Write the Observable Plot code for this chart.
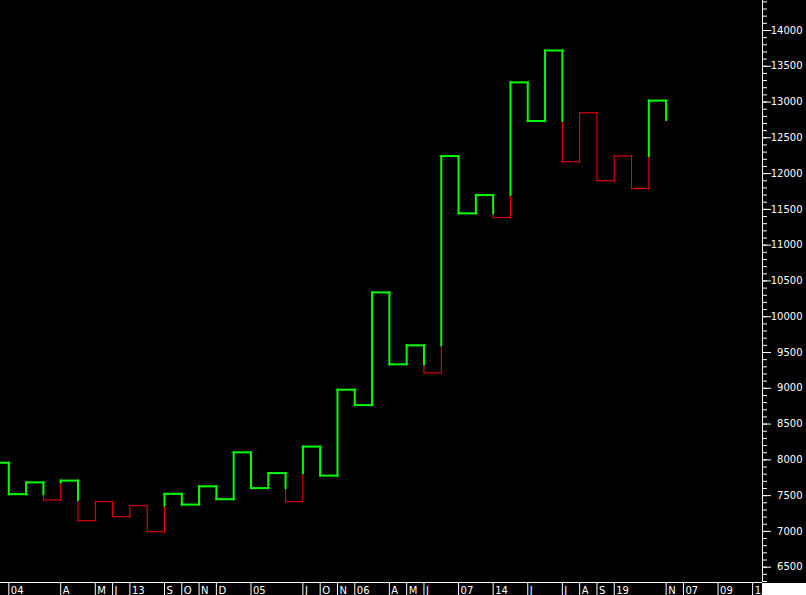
<!DOCTYPE html>
<html><head><meta charset="utf-8">
<script src="https://cdn.jsdelivr.net/npm/d3@7"></script>
<script src="https://cdn.jsdelivr.net/npm/@observablehq/plot@0.6"></script>
<style>
html,body{margin:0;padding:0;background:#000;overflow:hidden;}
#chart svg{display:block;}
</style></head><body><div id="chart"></div>
<script>
// Kagi turning levels (first = opening level, then end of each vertical line)
const kagiLevels = [7960, 7520, 7685, 7440, 7710, 7150, 7415, 7205, 7360, 6995,
  7525, 7375, 7630, 7450, 8105, 7605, 7815, 7415, 8185, 7780,
  8980, 8765, 10340, 9335, 9600, 9215, 12245, 11445, 11700, 11385,
  13275, 12735, 13720, 12165, 12850, 11900, 12245, 11790, 13020, 12750];

// Bottom strip labels (column index where each label starts)
const labelColumns = [0, 3, 5, 6, 7, 9, 10, 11, 12, 14, 17, 18, 19, 20, 22, 23, 24, 26, 28, 30, 32, 33, 34, 35, 38, 39, 41, 43];
const labelTexts = ["04", "A", "M", "J", "13", "S", "O", "N", "D", "05", "J", "O", "N", "06", "A", "M", "J", "07", "14", "J", "J", "A", "S", "19", "N", "07", "09", "12"];

const majorTicks = d3.range(6500, 14001, 500);
const minorTicks = d3.range(6300, 14401, 100);

const xDomain = [-0.48, 43.57];
const yDomain = [6286, 14419];

// Build Kagi segments with yang (thick green) / yin (thin red) switching
const segs = [];
let yang = true;
const L = kagiLevels;
segs.push({x1: -1, x2: 0, y1: L[0], y2: L[0], yang});
for (let k = 0; k < L.length - 1; k++) {
  const a = L[k], b = L[k + 1];
  if (b > a) {
    const sh = L[k - 1];
    if (!yang && k > 0 && b > sh) {
      segs.push({x1: k, x2: k, y1: a, y2: sh, yang: false});
      segs.push({x1: k, x2: k, y1: sh, y2: b, yang: true});
      yang = true;
    } else segs.push({x1: k, x2: k, y1: a, y2: b, yang});
  } else {
    const w = L[k - 1];
    if (yang && k > 0 && b < w) {
      segs.push({x1: k, x2: k, y1: a, y2: w, yang: true});
      segs.push({x1: k, x2: k, y1: w, y2: b, yang: false});
      yang = false;
    } else segs.push({x1: k, x2: k, y1: a, y2: b, yang});
  }
  if (k + 1 < L.length - 1) segs.push({x1: k, x2: k + 1, y1: b, y2: b, yang});
}

const labelMap = new Map(labelColumns.map((c, i) => [c, labelTexts[i]]));

const chart = Plot.plot({
  width: 806, height: 595,
  marginLeft: 0, marginRight: 44, marginTop: 0, marginBottom: 13,
  style: {background: "#000", color: "#fff", fontFamily: "DejaVu Sans", fontSize: "10px"},
  x: {type: "linear", domain: xDomain},
  y: {domain: yDomain},
  marks: [
    Plot.link(segs.filter(d => !d.yang), {x1: "x1", y1: "y1", x2: "x2", y2: "y2", stroke: "#ff0000", strokeWidth: 1, strokeLinecap: "square", clip: true}),
    Plot.link(segs.filter(d => d.yang), {x1: "x1", y1: "y1", x2: "x2", y2: "y2", stroke: "#00ff00", strokeWidth: 2, strokeLinecap: "square", clip: true}),
    Plot.ruleX([xDomain[1]], {stroke: "#fff"}),
    Plot.ruleY([yDomain[0]], {stroke: "#fff"}),
    // right axis: minor ticks, major ticks, labels
    Plot.axisY(minorTicks, {anchor: "right", tickSize: 4, tickFormat: () => "", label: null, color: "#fff"}),
    Plot.axisY(majorTicks, {anchor: "right", tickSize: 8, tickFormat: () => "", label: null, color: "#fff"}),
    Plot.axisY(majorTicks, {anchor: "right", tickSize: 0, tickPadding: 0, textAnchor: "end", dx: 40, tickFormat: d => String(d), label: null, color: "#fff", fontSize: 10}),
    // bottom strip: separators and labels
    Plot.axisX(labelColumns, {anchor: "bottom", tickSize: 13, tickFormat: () => "", label: null, color: "#fff"}),
    Plot.axisX(labelColumns, {anchor: "bottom", tickSize: 0, tickPadding: 0, textAnchor: "start", dx: 2, dy: 4, tickFormat: d => labelMap.get(d), label: null, color: "#fff", fontSize: 10})
  ]
});
document.getElementById("chart").appendChild(chart);
d3.select(chart).append("rect").attr("x", 762).attr("y", 583).attr("width", 44).attr("height", 12).attr("fill", "#fff");
</script>
</body></html>
